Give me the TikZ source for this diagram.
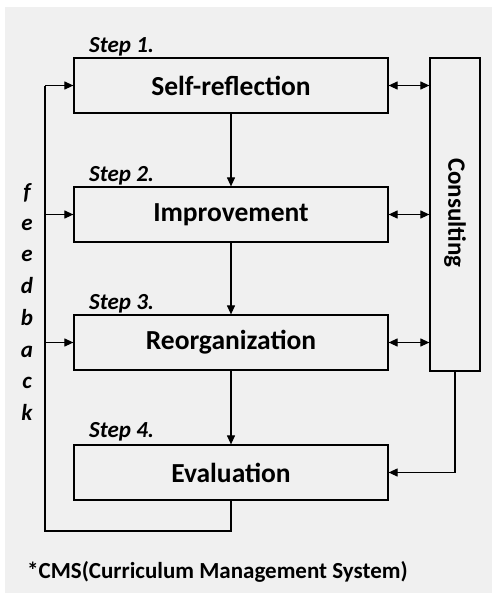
\documentclass[tikz,border=0pt]{standalone}
\usepackage{fontspec}
\setmainfont{Carlito}
\usetikzlibrary{arrows.meta}
\begin{document}
\begin{tikzpicture}[x=1pt,y=-1pt,
  box/.style={draw,line width=1.2pt,fill=none,minimum width=314pt,minimum height=55pt,inner sep=0pt,font=\fontsize{27.5}{30}\selectfont\bfseries},
  steplbl/.style={font=\fontsize{23}{25}\selectfont\bfseries\itshape,anchor=base west,inner sep=0pt},
  fb/.style={font=\fontsize{23}{25}\selectfont\bfseries\itshape,inner sep=0pt,anchor=base},
  conn/.style={line width=1.1pt},
  arr/.style={conn,-{Triangle[length=9pt,width=8pt]}},
  darr/.style={conn,{Triangle[length=9pt,width=8pt]}-{Triangle[length=9pt,width=8pt]}}]
\useasboundingbox (0,0) rectangle (500,595);
\fill[white] (0,0) rectangle (500,595);
\fill[black!6] (5,7) rectangle (492,593);
\node[box] (s1) at (231,85.5) {Self-reflection};
\node[box] (s2) at (231,214.5) {Improvement};
\node[box] (s3) at (231,342.5) {Reorganization};
\node[box] (s4) at (231,472.5) {Evaluation};
\node[draw,line width=1.2pt,minimum width=50pt,minimum height=313pt,inner sep=0pt] (cons) at (455,214.5) {};
\node[rotate=-90,font=\fontsize{25}{27}\selectfont\bfseries] (ctext) at (455,213) {Consulting};
\node[steplbl] (l1) at (89,52) {Step 1.};
\node[steplbl] (l2) at (89,181) {Step 2.};
\node[steplbl] (l3) at (89,309) {Step 3.};
\node[steplbl] (l4) at (89,437) {Step 4.};
\foreach \c/\y [count=\i] in {f/199,e/230,e/261,d/293,b/325,a/357,c/388,k/420}
  \node[fb] (fb\i) at (27,\y) {\c};
\coordinate (fbot) at (45,531);
\coordinate (ftop) at (45,85.5);
\draw[arr] (s1.south) -- (s2.north);
\draw[arr] (s2.south) -- (s3.north);
\draw[arr] (s3.south) -- (s4.north);
\draw[conn] (s4.south) |- (fbot) -- (ftop);
\draw[arr] (ftop) -- (s1.west);
\draw[arr] (45,214.5) -- (s2.west);
\draw[arr] (45,342.5) -- (s3.west);
\draw[darr] (s1.east) -- (cons.west |- s1.east);
\draw[darr] (s2.east) -- (cons.west |- s2.east);
\draw[darr] (s3.east) -- (cons.west |- s3.east);
\draw[arr] (cons.south) |- (s4.east);
\node[anchor=west,inner sep=0pt,font=\fontsize{23}{26}\selectfont\bfseries] (cms) at (27,572) {*CMS(Curriculum Management System)};
\end{tikzpicture}
\end{document}
